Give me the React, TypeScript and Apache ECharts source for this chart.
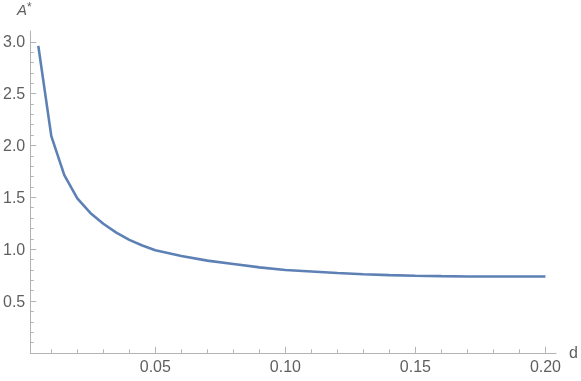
import React, { useEffect, useRef } from "react";
import * as echarts from "echarts";

const dValues = [0.005, 0.01, 0.015, 0.02, 0.025, 0.03, 0.035, 0.04, 0.045, 0.05, 0.06, 0.07, 0.08, 0.09, 0.1, 0.11, 0.12, 0.13, 0.14, 0.15, 0.16, 0.17, 0.18, 0.19, 0.2];
const aValues = [2.96, 2.09, 1.715, 1.49, 1.35, 1.245, 1.16, 1.09, 1.035, 0.99, 0.935, 0.89, 0.858, 0.825, 0.8, 0.785, 0.77, 0.758, 0.75, 0.744, 0.74, 0.737, 0.736, 0.736, 0.736];
const xMajorTicks = [0.05, 0.1, 0.15, 0.2];
const xMinorTicks = [0.01, 0.02, 0.03, 0.04, 0.06, 0.07, 0.08, 0.09, 0.11, 0.12, 0.13, 0.14, 0.16, 0.17, 0.18, 0.19];
const yMajorTicks = [0.5, 1.0, 1.5, 2.0, 2.5, 3.0];
const yMinorTicks = [0.1, 0.2, 0.3, 0.4, 0.6, 0.7, 0.8, 0.9, 1.1, 1.2, 1.3, 1.4, 1.6, 1.7, 1.8, 1.9, 2.1, 2.2, 2.3, 2.4, 2.6, 2.7, 2.8, 2.9];

const AXIS = "#b3b3b3";
const TEXT = "#5f5f5f";
const FONT = "Liberation Sans";

export default function App() {
  const ref = useRef<HTMLDivElement>(null);
  useEffect(() => {
    if (!ref.current) return;
    const chart = echarts.init(ref.current, undefined, { renderer: "svg" });
    const xMin = 0.0019, xMax = 0.2041, yMin = 0, yMax = 3.104;
    chart.setOption({
      animation: false,
      grid: { left: 27, right: 24.3, top: 31, bottom: 28.1, containLabel: false },
      xAxis: [
        {
          type: "value", min: xMin, max: xMax, position: "bottom",
          axisLine: { onZero: false, lineStyle: { color: AXIS, width: 1 } },
          axisTick: { inside: true, length: 6, customValues: xMajorTicks, lineStyle: { color: AXIS } },
          axisLabel: { customValues: xMajorTicks, formatter: (v: number) => v.toFixed(2), color: TEXT, fontSize: 16, fontFamily: FONT, margin: 6 },
          splitLine: { show: false },
          name: "d", nameLocation: "end", nameGap: 13,
          nameTextStyle: { color: TEXT, fontSize: 16, fontFamily: FONT },
        },
        {
          type: "value", min: xMin, max: xMax, position: "bottom",
          axisLine: { show: false, onZero: false },
          axisTick: { inside: true, length: 3.5, customValues: xMinorTicks, lineStyle: { color: AXIS } },
          axisLabel: { show: false },
          splitLine: { show: false },
        },
      ],
      yAxis: [
        {
          type: "value", min: yMin, max: yMax, position: "left",
          axisLine: { show: true, onZero: false, lineStyle: { color: AXIS, width: 1 } },
          axisTick: { show: true, inside: true, length: 6, customValues: yMajorTicks, lineStyle: { color: AXIS } },
          axisLabel: { customValues: yMajorTicks, formatter: (v: number) => v.toFixed(1), color: TEXT, fontSize: 16, fontFamily: FONT, margin: 5 },
          splitLine: { show: false },
        },
        {
          type: "value", min: yMin, max: yMax, position: "left",
          axisLine: { show: false, onZero: false },
          axisTick: { show: true, inside: true, length: 3.5, customValues: yMinorTicks, lineStyle: { color: AXIS } },
          axisLabel: { show: false },
          splitLine: { show: false },
        },
      ],
      graphic: [
        { type: "text", left: 17, top: 2, style: { text: "A", font: `italic 15px ${FONT}`, fill: TEXT } },
        { type: "text", left: 27, top: 1, style: { text: "*", font: `12px ${FONT}`, fill: TEXT } },
      ],
      series: [
        {
          type: "line",
          xAxisIndex: 0, yAxisIndex: 0,
          data: dValues.map((d, i) => [d, aValues[i]]),
          showSymbol: false,
          lineStyle: { color: "#5E81B5", width: 2.6 },
          itemStyle: { color: "#5E81B5" },
        },
      ],
    });
    return () => chart.dispose();
  }, []);
  return <div ref={ref} style={{ position: "fixed", left: 0, top: 0, width: 581, height: 381 }} />;
}
